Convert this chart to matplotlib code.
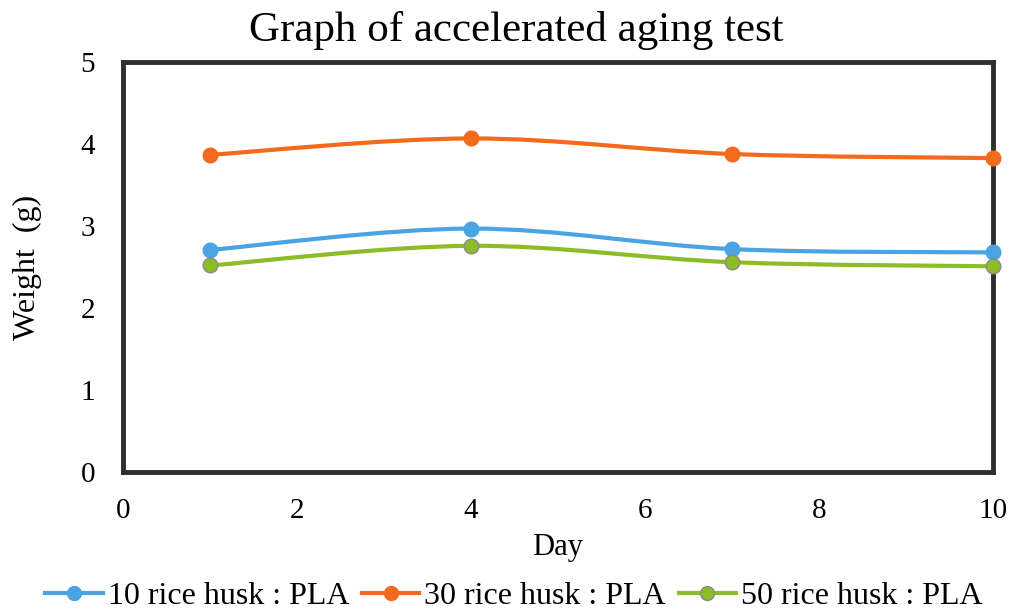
import matplotlib
matplotlib.use("Agg")
import matplotlib.pyplot as plt
from matplotlib.path import Path
from matplotlib.patches import PathPatch
from matplotlib.lines import Line2D
import numpy as np

days = [1, 4, 7, 10]
series_names = ["10 rice husk : PLA", "30 rice husk : PLA", "50 rice husk : PLA"]
w10 = [2.71, 2.97, 2.72, 2.68]
w30 = [3.87, 4.07, 3.88, 3.83]
w50 = [2.52, 2.76, 2.56, 2.51]
colors = ["#4AA3E2", "#F26A1B", "#8CBD28"]
edge_colors = ["#4AA3E2", "#F26A1B", "#8a8a8a"]

plt.rcParams['font.family'] = ['Liberation Serif', 'DejaVu Serif']

fig = plt.figure(figsize=(10.13, 6.10), dpi=100)
ax = fig.add_axes([0.1214, 0.2262, 0.8588, 0.6718])


def smooth_path(x, y):
    pts = np.column_stack([x, y]).astype(float)
    verts = [pts[0]]
    codes = [Path.MOVETO]
    n = len(pts)
    for i in range(n - 1):
        p0 = pts[i - 1] if i > 0 else pts[i]
        p1 = pts[i]
        p2 = pts[i + 1]
        p3 = pts[i + 2] if i + 2 < n else pts[i + 1]
        c1 = p1 + (p2 - p0) / 6.0
        c2 = p2 - (p3 - p1) / 6.0
        verts += [c1, c2, p2]
        codes += [Path.CURVE4] * 3
    return Path(verts, codes)


handles = []
for vals, c, ec, name in zip([w10, w30, w50], colors, edge_colors, series_names):
    patch = PathPatch(smooth_path(days, vals), facecolor='none', edgecolor=c, lw=3.0,
                      zorder=3, capstyle='round')
    ax.add_patch(patch)
    ax.plot(days, vals, linestyle='none', marker='o', ms=10.5, color=c,
            markeredgecolor=ec, markeredgewidth=1.0, zorder=4, clip_on=False)
    handles.append(Line2D([0], [0], color=c, lw=3.0, marker='o', ms=10,
                          markeredgecolor=ec, markeredgewidth=1.0))

ax.set_xlim(0, 10)
ax.set_ylim(0, 5)
ax.set_xticks([0, 2, 4, 6, 8, 10])
ax.set_yticks([0, 1, 2, 3, 4, 5])
ax.tick_params(length=0, labelsize=21)
ax.tick_params(axis='y', pad=20)
ax.tick_params(axis='x', pad=19)
for s in ax.spines.values():
    s.set_linewidth(3.5)
    s.set_color('#2e2e2e')

fig.text(516 / 1013, 1 - 30 / 610, "Graph of accelerated aging test", fontsize=31,
         ha='center', va='center')
ax.set_xlabel("Day", fontsize=22, labelpad=6)
ax.set_ylabel("Weight  (g)", fontsize=23, labelpad=28)

fig.legend(handles, series_names, loc='center', bbox_to_anchor=(514 / 1013, 1 - 596 / 610),
           ncol=3, frameon=False, fontsize=23, handlelength=1.8, handletextpad=0.15,
           columnspacing=0.4, borderpad=0, borderaxespad=0)

fig.savefig("out.png", dpi=100)
